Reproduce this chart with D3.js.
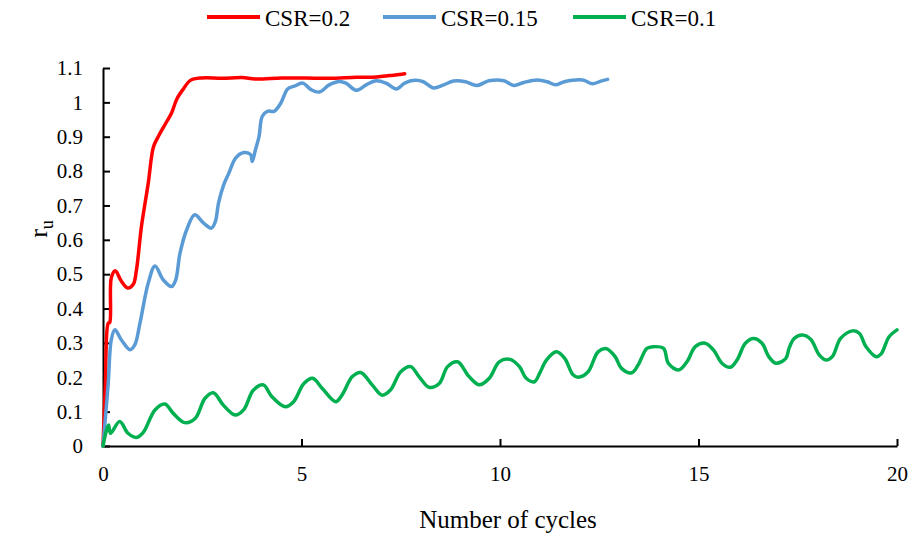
<!DOCTYPE html>
<html lang="en">
<head>
<meta charset="utf-8" />
<title>ru vs number of cycles</title>
<style>
	* {margin: 0; padding: 0;}
	body {background: #fff;}
	svg text {font-family: "Liberation Serif", "Times New Roman", serif; fill: #000;}
	.axis path, .axis line {stroke: #000; stroke-width: 2;}
	.axis text {font-size: 21px;}
</style>
</head>
<body>
<div id="viz"></div>
<script src="https://cdn.jsdelivr.net/npm/d3@7"></script>
<script type="text/javascript">

// series values: [cycles, ru]
var csr020 = [[0,0],[0.06,0.18],[0.13,0.357],[0.17,0.36],[0.21,0.49],[0.31,0.51],[0.46,0.48],[0.62,0.46],
	[0.76,0.47],[0.84,0.51],[0.97,0.64],[1.14,0.765],[1.27,0.87],[1.39,0.90],[1.61,0.945],[1.73,0.97],
	[1.86,1.01],[2.03,1.04],[2.2,1.064],[2.49,1.071],[3.0,1.07],[3.5,1.072],[3.84,1.068],[4.5,1.071],
	[5.1,1.071],[5.7,1.07],[6.38,1.073],[6.9,1.074],[7.22,1.078],[7.47,1.081],[7.6,1.083]];

var csr015 = [[0,0],[0.13,0.18],[0.21,0.31],[0.30,0.338],[0.46,0.309],[0.68,0.28],[0.80,0.294],[0.93,0.357],
	[1.14,0.474],[1.31,0.524],[1.52,0.483],[1.73,0.464],[1.83,0.483],[1.94,0.561],[2.11,0.63],[2.31,0.673],
	[2.53,0.649],[2.73,0.634],[2.83,0.653],[2.91,0.707],[3.04,0.76],[3.17,0.794],[3.34,0.838],[3.55,0.854],
	[3.72,0.848],[3.76,0.828],[3.84,0.862],[3.93,0.90],[4.01,0.959],[4.14,0.974],[4.31,0.974],[4.48,0.998],
	[4.65,1.039],[4.82,1.047],[5.03,1.056],[5.24,1.037],[5.45,1.03],[5.70,1.051],[5.95,1.061],[6.12,1.056],
	[6.38,1.035],[6.63,1.051],[6.88,1.063],[7.13,1.056],[7.39,1.039],[7.6,1.056],[7.85,1.064],[8.07,1.06],
	[8.32,1.042],[8.58,1.051],[8.83,1.062],[9.13,1.06],[9.42,1.049],[9.72,1.063],[10.1,1.063],[10.35,1.049],
	[10.6,1.058],[10.94,1.065],[11.19,1.06],[11.4,1.051],[11.62,1.06],[12.08,1.065],[12.33,1.054],
	[12.54,1.062],[12.71,1.067]];

var csr010 = [[0,0],[0.08,0.042],[0.14,0.061],[0.19,0.037],[0.42,0.071],[0.63,0.037],[0.84,0.025],[1.01,0.039],
	[1.31,0.105],[1.56,0.122],[1.77,0.095],[2.06,0.068],[2.32,0.08],[2.57,0.139],[2.78,0.155],[3.03,0.119],
	[3.33,0.09],[3.54,0.105],[3.79,0.163],[4.04,0.178],[4.25,0.144],[4.59,0.114],[4.80,0.129],[5.06,0.182],
	[5.28,0.197],[5.52,0.168],[5.86,0.129],[6.02,0.148],[6.28,0.202],[6.49,0.214],[6.78,0.178],[7.03,0.148],
	[7.24,0.163],[7.5,0.216],[7.75,0.231],[7.96,0.202],[8.21,0.171],[8.47,0.182],[8.68,0.231],[8.93,0.245],
	[9.22,0.202],[9.48,0.178],[9.73,0.197],[9.98,0.245],[10.25,0.252],[10.49,0.231],[10.66,0.197],
	[10.87,0.187],[11.0,0.212],[11.17,0.25],[11.42,0.274],[11.63,0.255],[11.84,0.207],[11.97,0.2],
	[12.22,0.216],[12.47,0.274],[12.68,0.283],[12.9,0.26],[13.06,0.226],[13.32,0.213],[13.48,0.236],
	[13.7,0.284],[13.86,0.289],[14.12,0.284],[14.24,0.241],[14.5,0.221],[14.71,0.245],[14.92,0.289],
	[15.17,0.299],[15.38,0.279],[15.59,0.241],[15.8,0.229],[15.97,0.25],[16.18,0.299],[16.39,0.313],
	[16.6,0.299],[16.77,0.26],[16.95,0.241],[17.2,0.255],[17.28,0.284],[17.41,0.313],[17.62,0.323],
	[17.83,0.31],[18.04,0.265],[18.21,0.25],[18.37,0.26],[18.58,0.313],[18.88,0.335],[19.05,0.328],
	[19.22,0.289],[19.48,0.26],[19.6,0.268],[19.8,0.318],[20,0.338]];

var seriesNames = ["CSR=0.2", "CSR=0.15", "CSR=0.1"];
var seriesColors = ["#ff0000", "#5b9bd5", "#00b050"];
var xTicks = [0, 5, 10, 15, 20];
var yTicks = [0, 0.1, 0.2, 0.3, 0.4, 0.5, 0.6, 0.7, 0.8, 0.9, 1, 1.1];

var w = 914, h = 540;
var svg = d3.select("#viz").append("svg").attr("width", w).attr("height", h);

var x = d3.scaleLinear().domain([0, 20]).range([103, 897]);
var y = d3.scaleLinear().domain([0, 1.1]).range([446, 68]);

// axes, ticks pointing into the plot
svg.append("g").attr("class", "axis")
	.attr("transform", "translate(0,446)")
	.call(d3.axisBottom(x).tickValues(xTicks).tickSizeInner(-7).tickSizeOuter(0).tickPadding(20));

svg.append("g").attr("class", "axis")
	.attr("transform", "translate(103,0)")
	.call(d3.axisLeft(y).tickValues(yTicks).tickSizeInner(-7).tickSizeOuter(0).tickPadding(20)
		.tickFormat(function(d){return d3.format("")(+d.toFixed(1));}));

// lines
var line = d3.line()
	.x(function(d){return x(d[0]);})
	.y(function(d){return y(d[1]);})
	.curve(d3.curveCatmullRom.alpha(0.5));

var allSeries = [csr020, csr015, csr010];
svg.selectAll("path.series")
	.data(allSeries)
	.enter()
	.append("path")
	.attr("class", "series")
	.attr("d", line)
	.style("fill", "none")
	.style("stroke", function(d, i){return seriesColors[i];})
	.style("stroke-width", 3.5)
	.style("stroke-linejoin", "round")
	.style("stroke-linecap", "round");

// legend
var legendX = [207, 383, 573];
var leg = svg.selectAll("g.legend")
	.data(seriesNames)
	.enter()
	.append("g")
	.attr("class", "legend")
	.attr("transform", function(d, i){return "translate(" + legendX[i] + ",0)";});

leg.append("line")
	.attr("x1", 0).attr("x2", 53).attr("y1", 17).attr("y2", 17)
	.style("stroke", function(d, i){return seriesColors[i];})
	.style("stroke-width", 4);

leg.append("text")
	.attr("x", 58).attr("y", 26)
	.style("font-size", "23px")
	.text(function(d){return d;});

// axis titles
svg.append("text")
	.attr("x", 508).attr("y", 528)
	.attr("text-anchor", "middle")
	.style("font-size", "25px")
	.text("Number of cycles");

var yl = svg.append("text")
	.attr("transform", "translate(47,229) rotate(-90)")
	.attr("text-anchor", "middle")
	.style("font-size", "26px");
yl.append("tspan").text("r");
yl.append("tspan").attr("dy", 6).style("font-size", "18px").text("u");

</script>
</body>
</html>
